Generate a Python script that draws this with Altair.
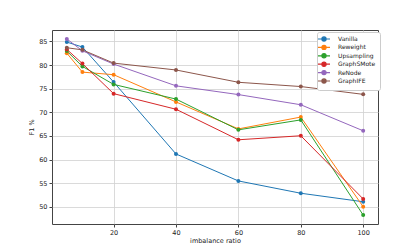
import altair as alt
import pandas as pd

ratios = [5, 10, 20, 40, 60, 80, 100]
methods = ["Vanilla", "Reweight", "Upsampling", "GraphSMote", "ReNode", "GraphIFE"]
vanilla = [84.85, 83.8, 76.4, 61.2, 55.5, 52.9, 51.1]
reweight = [82.5, 78.5, 77.95, 72.2, 66.5, 69.0, 50.05]
upsampling = [82.95, 79.7, 75.9, 72.8, 66.3, 68.4, 48.3]
graphsmote = [83.3, 80.3, 73.95, 70.65, 64.2, 65.05, 51.7]
renode = [85.5, 83.0, 80.2, 75.6, 73.75, 71.6, 66.1]
graphife = [83.65, 83.2, 80.4, 78.95, 76.35, 75.45, 73.8]
colors = ["#1f77b4", "#ff7f0e", "#2ca02c", "#d62728", "#9467bd", "#8c564b"]

series = [vanilla, reweight, upsampling, graphsmote, renode, graphife]
rows = []
for m, vals in zip(methods, series):
    for r, v in zip(ratios, vals):
        rows.append({"ratio": r, "f1": v, "method": m})
df = pd.DataFrame(rows)

x = alt.X("ratio:Q", scale=alt.Scale(domain=[0.25, 104.75], nice=False, zero=False),
          axis=alt.Axis(title="imbalance ratio", values=[20, 40, 60, 80, 100]))
y = alt.Y("f1:Q", scale=alt.Scale(domain=[46.4, 87.4], nice=False, zero=False),
          axis=alt.Axis(title="F1 %", values=[50, 55, 60, 65, 70, 75, 80, 85]))
color = alt.Color("method:N", scale=alt.Scale(domain=methods, range=colors),
                  legend=alt.Legend(title=None, orient="none", legendX=265, legendY=2,
                                    symbolType="M-4,0L4,0M-1.4,0A1.4,1.4 0 1,0 1.4,0A1.4,1.4 0 1,0 -1.4,0",
                                    symbolSize=9, symbolStrokeWidth=1.2, labelOffset=11,
                                    labelFontSize=6, labelFont="DejaVu Sans", rowPadding=-1.6,
                                    fillColor="white", strokeColor="#cccccc", padding=4,
                                    cornerRadius=2, labelColor="#222", labelLimit=60))

lines = alt.Chart(df).mark_line(strokeWidth=1).encode(x=x, y=y, color=color)
points = alt.Chart(df).mark_point(filled=True, size=16, opacity=1).encode(
    x=x, y=y, color=alt.Color("method:N", scale=alt.Scale(domain=methods, range=colors), legend=None))

chart = (lines + points).properties(
    width=326, height=194,
    autosize=alt.AutoSizeParams(type="none"),
    padding={"left": 44, "top": 22, "right": 34, "bottom": 28},
).configure_view(stroke="#444", strokeWidth=1).configure_axis(
    grid=True, gridColor="#d0d0d0", gridWidth=0.8, domain=False,
    tickColor="#444", tickSize=3, labelFontSize=6.5, labelFont="DejaVu Sans", labelColor="#222",
    titleFontSize=6.5, titleFont="DejaVu Sans", titleFontWeight="normal", titleColor="#222",
).configure_axisX(titlePadding=2, labelPadding=2).configure_axisY(titlePadding=4, labelPadding=2)

chart.save("out.html", embed_options={"renderer": "svg", "actions": False})
